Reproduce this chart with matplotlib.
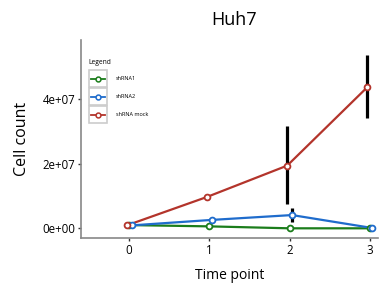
import numpy as np
import matplotlib.pyplot as plt
from matplotlib.patches import Rectangle
from matplotlib.lines import Line2D

plt.rcParams['font.family'] = ['Open Sans', 'DejaVu Sans']

# data
time_points = [0, 1, 2, 3]
series_names = ["shRNA1", "shRNA2", "shRNA mock"]
shrna1 = [1.0e6, 0.6e6, 0.0, 0.0]
shrna2 = [0.9e6, 2.6e6, 4.1e6, 0.1e6]
shrna2_lo = [0.9e6, 2.6e6, 2.0e6, 0.1e6]
shrna2_hi = [0.9e6, 2.6e6, 6.3e6, 0.1e6]
mock = [0.9e6, 9.7e6, 1.94e7, 4.37e7]
mock_lo = [0.9e6, 8.9e6, 7.4e6, 3.42e7]
mock_hi = [0.9e6, 10.5e6, 3.17e7, 5.37e7]

colors = ["#1b7d1b", "#1f6ccc", "#b3342b"]
dodge = [0.0, 0.03, -0.03]

fig = plt.figure(figsize=(3.83, 2.90), dpi=100)
ax = fig.add_axes([0.2115, 0.1793, 0.775, 0.683])

x = np.array(time_points, dtype=float)
vals = [shrna1, shrna2, mock]
errs = [None, (shrna2_lo, shrna2_hi), (mock_lo, mock_hi)]
for v, e, c, d in zip(vals, errs, colors, dodge):
    xs = x + d
    ax.plot(xs, v, color=c, lw=1.6, zorder=2)
    if e is not None:
        ax.vlines(xs, e[0], e[1], color="black", lw=2.3, zorder=3)
    ax.plot(xs, v, 'o', ms=4.2, mfc='white', mec=c, mew=1.3, zorder=4)

ax.set_xlim(-0.6, 3.1)
ax.set_ylim(-3.0e6, 5.83e7)
ax.set_xticks(time_points)
ax.set_yticks([0, 2e7, 4e7])
ax.set_yticklabels(["0e+00", "2e+07", "4e+07"])
ax.tick_params(labelsize=8.3, length=2, width=1, color="#333333", pad=2)
for s in ["top", "right"]:
    ax.spines[s].set_visible(False)
for s in ["left", "bottom"]:
    ax.spines[s].set_color("#888888")
    ax.spines[s].set_linewidth(1.2)

ax.set_xlabel("Time point", fontsize=10, labelpad=8)
ax.set_ylabel("Cell count", fontsize=11.5, labelpad=9)
fig.text(0.61, 0.93, "Huh7", fontsize=13, ha="center", va="center")

# legend drawn by hand (key boxes with grey borders)
fig.text(88 / 383, 1 - 62 / 290, "Legend", fontsize=4.8, va="center")
for i, (name, c) in enumerate(zip(series_names, colors)):
    top = 70 + i * 18.2
    r = Rectangle((89 / 383, 1 - (top + 17) / 290), 18 / 383, 17 / 290,
                  transform=fig.transFigure, fc="white", ec="#cccccc", lw=1.2)
    fig.add_artist(r)
    yc = 1 - (top + 8.5) / 290
    fig.add_artist(Line2D([91 / 383, 105 / 383], [yc, yc], transform=fig.transFigure,
                          color=c, lw=1.3))
    fig.add_artist(Line2D([98 / 383], [yc], transform=fig.transFigure, marker='o',
                          ms=3.5, mfc='white', mec=c, mew=1.1))
    fig.text(116 / 383, yc, name, fontsize=4, va="center")

plt.savefig("out.png", dpi=100)
